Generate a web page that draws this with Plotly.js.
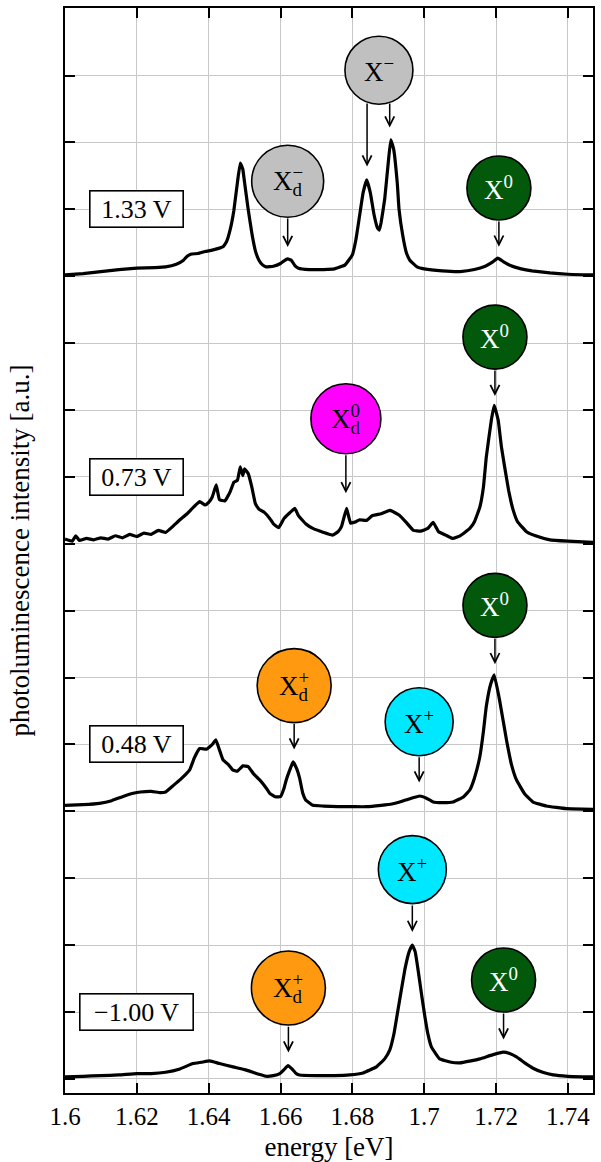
<!DOCTYPE html>
<html><head><meta charset="utf-8">
<script src="https://cdn.plot.ly/plotly-3.0.1.min.js"></script>
<style>html,body{margin:0;padding:0;background:#fff}</style>
</head><body><div id="chart" style="width:601px;height:1162px"></div>
<script>
// ---- spectra (energy in eV, relative PL intensity) ----
const energy_133 = [1.600,1.605,1.610,1.615,1.620,1.625,1.628,1.631,1.633,1.634,1.635,1.637,1.639,1.641,1.643,1.644,1.645,1.646,1.647,1.648,1.6488,1.6495,1.650,1.651,1.652,1.653,1.654,1.655,1.656,1.658,1.660,1.661,1.662,1.663,1.664,1.665,1.668,1.672,1.675,1.678,1.680,1.681,1.682,1.683,1.684,1.685,1.686,1.687,1.6875,1.688,1.689,1.690,1.6907,1.6915,1.6925,1.693,1.694,1.695,1.696,1.698,1.700,1.705,1.710,1.714,1.717,1.719,1.7205,1.722,1.724,1.727,1.730,1.735,1.740,1.747];
const pl_133 = [0.02,0.04,0.07,0.10,0.12,0.13,0.14,0.18,0.24,0.30,0.33,0.34,0.37,0.39,0.42,0.44,0.52,0.70,0.98,1.40,1.69,1.60,1.40,1.00,0.65,0.38,0.24,0.17,0.14,0.15,0.19,0.23,0.26,0.24,0.16,0.12,0.10,0.10,0.11,0.17,0.32,0.55,0.90,1.25,1.44,1.25,0.93,0.72,0.69,0.80,1.15,1.70,2.04,1.90,1.40,1.00,0.62,0.36,0.24,0.14,0.11,0.08,0.07,0.10,0.15,0.21,0.27,0.22,0.16,0.11,0.08,0.05,0.03,0.02];

const energy_073 = [1.600,1.602,1.603,1.604,1.606,1.608,1.610,1.612,1.614,1.616,1.618,1.620,1.622,1.624,1.626,1.628,1.630,1.632,1.634,1.636,1.6375,1.639,1.640,1.641,1.6421,1.643,1.6445,1.646,1.647,1.648,1.6488,1.6495,1.650,1.651,1.652,1.653,1.654,1.6555,1.657,1.658,1.6595,1.661,1.6625,1.664,1.665,1.667,1.669,1.672,1.6745,1.676,1.677,1.6784,1.6795,1.681,1.682,1.684,1.6855,1.688,1.6905,1.693,1.695,1.697,1.699,1.701,1.7025,1.704,1.706,1.708,1.710,1.7127,1.714,1.7155,1.7165,1.7173,1.7187,1.7195,1.7206,1.7215,1.7224,1.7235,1.7248,1.726,1.7285,1.731,1.735,1.740,1.747];
const pl_073 = [0.07,0.04,0.12,0.05,0.08,0.06,0.09,0.07,0.12,0.09,0.14,0.11,0.16,0.14,0.20,0.17,0.26,0.36,0.45,0.56,0.63,0.58,0.62,0.70,0.88,0.66,0.64,0.78,0.92,0.95,1.15,1.02,1.12,1.05,0.85,0.60,0.52,0.47,0.38,0.30,0.24,0.38,0.46,0.53,0.42,0.30,0.23,0.17,0.13,0.18,0.26,0.53,0.31,0.33,0.36,0.35,0.42,0.45,0.50,0.43,0.32,0.20,0.19,0.23,0.32,0.18,0.13,0.08,0.12,0.23,0.33,0.55,0.85,1.30,1.85,2.07,1.85,1.45,1.15,0.80,0.50,0.33,0.18,0.12,0.06,0.04,0.02];

const energy_048 = [1.600,1.605,1.6096,1.613,1.616,1.619,1.621,1.624,1.6265,1.628,1.630,1.632,1.6347,1.636,1.6375,1.6394,1.641,1.642,1.643,1.644,1.6455,1.6467,1.648,1.6495,1.651,1.6525,1.6542,1.656,1.657,1.6585,1.660,1.661,1.6616,1.6628,1.6635,1.6645,1.6653,1.6662,1.667,1.669,1.672,1.676,1.680,1.684,1.688,1.691,1.6932,1.696,1.6988,1.7005,1.7025,1.705,1.708,1.711,1.7127,1.714,1.7155,1.7165,1.7173,1.7185,1.7195,1.721,1.7229,1.7243,1.7257,1.728,1.7303,1.734,1.7396,1.747];
const pl_048 = [0.09,0.10,0.12,0.16,0.22,0.27,0.29,0.30,0.28,0.29,0.38,0.47,0.62,0.80,0.94,0.93,1.00,1.07,0.92,0.77,0.70,0.62,0.60,0.68,0.67,0.56,0.47,0.35,0.27,0.22,0.22,0.35,0.47,0.65,0.74,0.64,0.50,0.27,0.17,0.09,0.08,0.07,0.07,0.07,0.09,0.11,0.14,0.19,0.23,0.20,0.14,0.13,0.14,0.22,0.32,0.50,0.82,1.20,1.57,1.90,2.04,1.66,1.07,0.70,0.47,0.26,0.14,0.08,0.04,0.03];

const energy_m100 = [1.600,1.605,1.610,1.615,1.620,1.624,1.628,1.632,1.6356,1.638,1.6403,1.643,1.6468,1.650,1.6523,1.654,1.656,1.658,1.6598,1.661,1.6621,1.6632,1.6644,1.6653,1.670,1.675,1.6793,1.683,1.6867,1.689,1.6904,1.6916,1.6927,1.6946,1.6958,1.6967,1.6975,1.6983,1.6993,1.7002,1.701,1.702,1.7043,1.7075,1.7099,1.713,1.7155,1.719,1.722,1.7238,1.7257,1.728,1.7303,1.733,1.7359,1.740,1.747];
const pl_m100 = [0.03,0.04,0.05,0.06,0.08,0.08,0.10,0.15,0.23,0.25,0.27,0.23,0.18,0.14,0.10,0.07,0.04,0.05,0.08,0.14,0.20,0.15,0.08,0.06,0.05,0.05,0.06,0.09,0.18,0.30,0.43,0.68,1.03,1.63,1.90,2.00,1.90,1.63,1.25,0.93,0.68,0.48,0.30,0.25,0.24,0.27,0.30,0.36,0.40,0.38,0.33,0.24,0.16,0.10,0.06,0.04,0.03];

const voltages = ['1.33 V', '0.73 V', '0.48 V', '\u22121.00 V'];
const offsets = [12, 8, 4, 0];
const labelWidths = [88, 88, 88, 108];

const xTickVals = [1.6, 1.62, 1.64, 1.66, 1.68, 1.7, 1.72, 1.74];
const xTickText = ['1.6', '1.62', '1.64', '1.66', '1.68', '1.7', '1.72', '1.74'];

// ---- peak assignment bubbles ----
const bubbleE    = [1.6620, 1.6874, 1.7208, 1.6782, 1.7197, 1.6638, 1.6986, 1.7197, 1.6622, 1.6967, 1.7221];
const bubbleY    = [13.42, 15.08, 13.32, 9.87, 11.09, 5.88, 5.34, 7.08, 1.36, 3.13, 1.48];
const bubbleR    = [36, 34, 32, 35, 32, 37, 34, 32, 37, 34, 32];
const bubbleSub  = ['d', '', '', 'd', '', 'd', '', '', 'd', '', ''];
const bubbleSup  = ['\u2212', '\u2212', '0', '0', '0', '+', '+', '0', '+', '+', '0'];
const bubbleFill = ['#c0c0c0', '#c0c0c0', '#02590c', '#ff00ff', '#02590c', '#ff9a10', '#00e8ff', '#02590c', '#ff9a10', '#00e8ff', '#02590c'];
const bubbleInk  = ['#000', '#000', '#fff', '#000', '#fff', '#000', '#000', '#fff', '#000', '#000', '#fff'];

// arrows: energy, tail (bubble edge) and tip level
const arrowE    = [1.6620, 1.6841, 1.6904, 1.7208, 1.6782, 1.7197, 1.6638, 1.6986, 1.7197, 1.6622, 1.6967, 1.7221];
const arrowTail = [12.886, 14.606, 14.603, 12.841, 9.345, 10.613, 5.327, 4.830, 6.605, 0.803, 2.617, 1.002];
const arrowTip  = [12.437, 13.639, 14.222, 12.442, 8.754, 10.209, 4.926, 4.432, 6.201, 0.395, 2.198, 0.589];

const FONT = 'Liberation Serif, Times New Roman, serif';

const energies = [energy_133, energy_073, energy_048, energy_m100];
const spectra = [pl_133, pl_073, pl_048, pl_m100];

const traces = spectra.map((s, i) => ({
  x: energies[i],
  y: s.map(v => v + offsets[i]),
  type: 'scatter', mode: 'lines',
  line: {color: '#000', width: 3.2, shape: 'spline', smoothing: 0.3},
  hoverinfo: 'skip', showlegend: false
}));

const shapes = bubbleE.map((e, i) => ({
  type: 'circle', xref: 'x', yref: 'y',
  xsizemode: 'pixel', ysizemode: 'pixel',
  xanchor: e, yanchor: bubbleY[i],
  x0: -bubbleR[i], x1: bubbleR[i], y0: -bubbleR[i], y1: bubbleR[i],
  fillcolor: bubbleFill[i], line: {color: '#000', width: 1.6}, layer: 'above'
}));

const annotations = [];
const inv = t => "<span style='color:rgba(0,0,0,0)'>" + t + "</span>";
bubbleE.forEach((e, i) => {
  const f = {family: FONT, size: 27, color: bubbleInk[i]};
  if (bubbleSub[i]) {
    const sub = bubbleSub[i], sup = bubbleSup[i];
    annotations.push({x: e, y: bubbleY[i], xref: 'x', yref: 'y', showarrow: false,
      xanchor: 'left', yanchor: 'middle', xshift: -17, font: f,
      text: 'X<sub>' + sub + '</sub><sup>' + inv(sup) + '</sup>'});
    annotations.push({x: e, y: bubbleY[i], xref: 'x', yref: 'y', showarrow: false,
      xanchor: 'left', yanchor: 'middle', xshift: -17, font: f,
      text: inv('X') + '<sup>' + sup + '</sup><sub>' + inv(sub) + '</sub>'});
  } else {
    annotations.push({x: e, y: bubbleY[i], xref: 'x', yref: 'y', showarrow: false,
      xanchor: 'center', yanchor: 'middle', font: f,
      text: 'X<sup>' + bubbleSup[i] + '</sup>'});
  }
});
arrowE.forEach((e, i) => {
  annotations.push({x: e, y: arrowTip[i], ax: e, ay: arrowTail[i], axref: 'x', ayref: 'y',
    xref: 'x', yref: 'y', text: '', showarrow: true, arrowhead: 5, arrowsize: 1.2,
    arrowwidth: 1.5, arrowcolor: '#000', standoff: 0, startstandoff: 0});
});
voltages.forEach((v, i) => {
  annotations.push({x: 1.62, y: offsets[i] + 1, xref: 'x', yref: 'y', showarrow: false,
    text: v, font: {family: FONT, size: 26, color: '#000'},
    bgcolor: '#fff', bordercolor: '#000', borderwidth: 1.6, borderpad: 2,
    width: labelWidths[i], height: 31, xanchor: 'center', yanchor: 'middle'});
});

const layout = {
  width: 601, height: 1162,
  margin: {l: 65, r: 8, t: 8, b: 69},
  paper_bgcolor: '#fff', plot_bgcolor: '#fff',
  font: {family: FONT, size: 25, color: '#000'},
  showlegend: false,
  xaxis: {
    range: [1.6, 1.747], tickvals: xTickVals, ticktext: xTickText,
    ticks: 'inside', ticklen: 10, tickwidth: 2, tickcolor: '#000',
    showline: true, linecolor: '#000', linewidth: 2, mirror: 'ticks',
    showgrid: true, gridcolor: '#c8c8c8', gridwidth: 1, zeroline: false,
    tickfont: {family: FONT, size: 25, color: '#000'},
    title: {text: 'energy [eV]', font: {family: FONT, size: 27, color: '#000'}, standoff: 9}
  },
  yaxis: {
    range: [-0.21, 16.01], tick0: 0, dtick: 1,
    ticks: 'inside', ticklen: 10, tickwidth: 2, tickcolor: '#000',
    showticklabels: false,
    showline: true, linecolor: '#000', linewidth: 2, mirror: 'ticks',
    showgrid: true, gridcolor: '#c8c8c8', gridwidth: 1, zeroline: false,
    title: {text: 'photoluminescence intensity [a.u.]', font: {family: FONT, size: 27, color: '#000'}, standoff: 26}
  },
  shapes: shapes,
  annotations: annotations
};

Plotly.newPlot('chart', traces, layout, {staticPlot: true, displayModeBar: false});
</script>
</body></html>
